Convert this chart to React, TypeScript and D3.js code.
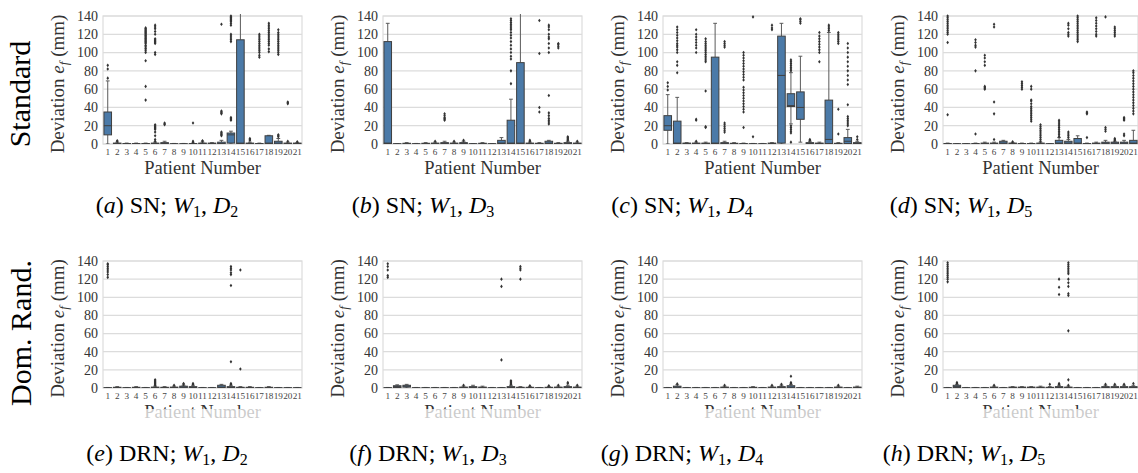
import React from "react";
import * as d3 from "d3";

type Box = [number, number, number, number, number]; // lo, q1, median, q3, hi

const patients = ["1", "2", "3", "4", "5", "6", "7", "8", "9", "10", "11", "12", "13", "14", "15", "16", "17", "18", "19", "20", "21"];
const yTicks = [0, 20, 40, 60, 80, 100, 120, 140];
const rowLabels = ["Standard", "Dom. Rand."];

// (a) SN; W1, D2
const boxesA: Box[] = [
  [0, 10, 20, 35, 69], [0, 0, 0.5, 1, 2], [0, 0, 0, 0.5, 1], [0, 0, 0, 0.5, 1], [0, 0, 0, 0.5, 1],
  [0, 0, 0.3, 1, 2], [0, 0, 0.5, 1.5, 3], [0, 0, 0, 0.3, 0.6], [0, 0, 0, 0.3, 0.6], [0, 0, 0.2, 0.5, 1],
  [0, 0, 0.3, 1, 2], [0, 0, 0.3, 1, 1.5], [0, 0, 0.5, 2, 4], [0, 1, 10, 12, 14], [0, 0.5, 1, 114, 150],
  [0, 0, 0.5, 1, 2], [0, 0, 0, 0.5, 1], [0, 0.5, 1, 9, 9.5], [0, 0, 1, 3, 6], [0, 0, 0.5, 1, 2], [0, 0, 0.5, 1, 1.5],
];
const fliersA: number[][] = [
  [72, 82, 86], [3, 3.5], [], [],
  [48, 63, 91, 100, 102, 104, 105, 107, 108, 110, 111, 112, 113, 114, 115, 116, 117, 118, 119, 120, 121, 122, 123, 124, 125, 126, 127],
  [3, 5, 9, 13, 16, 17, 18, 19, 20, 21, 98, 100, 110, 111, 112, 113, 114, 115, 120, 123, 126, 128, 130],
  [21, 22, 23], [], [], [2, 3, 23], [3, 3.5], [], [9, 10, 11, 12, 13, 33, 34, 35, 36, 131],
  [26, 27, 28, 29, 112, 114, 116, 118, 120, 130, 132, 134, 135, 136, 137, 138, 139, 140],
  [], [4, 5, 6], [95, 97, 100, 102, 104, 106, 108, 110, 112, 114, 116, 118, 120],
  [101, 104, 108, 110, 112, 114, 116, 118, 120, 122, 124, 126, 128, 130, 132],
  [8, 9, 10, 98, 100, 102, 104, 106, 108, 110, 112, 114, 116, 118, 120, 122, 125],
  [3, 44, 45, 46], [2.5],
];

// (b) SN; W1, D3
const boxesB: Box[] = [
  [0, 0.5, 1, 112, 132], [0, 0, 0, 0.3, 0.5], [0, 0, 0.3, 0.8, 1.5], [0, 0, 0, 0.3, 0.6], [0, 0, 0.3, 0.8, 1.5],
  [0, 0, 0.5, 1, 2], [0, 0, 0.5, 1.5, 3], [0, 0, 0.5, 1, 2], [0, 0, 0.5, 1.5, 3], [0, 0, 0, 0.3, 0.5],
  [0, 0, 0.3, 0.8, 1.5], [0, 0, 0, 0.3, 0.5], [0, 0.5, 1, 4, 7], [0, 0.5, 1, 26, 49], [0, 0.5, 1, 89, 150],
  [0, 0, 0.5, 1, 2], [0, 0, 0.3, 0.8, 1.5], [0, 0.5, 1, 3, 4], [0, 0, 0.3, 0.8, 1.5], [0, 0, 0.5, 1.5, 3], [0, 0, 0.5, 1, 2],
];
const fliersB: number[][] = [
  [], [], [], [], [], [3], [26, 27, 28, 29, 31, 33], [3], [4], [], [], [], [],
  [66, 80, 93, 96, 100, 104, 108, 112, 116, 119, 122, 125, 127, 129, 131, 133, 135, 137],
  [], [3, 4], [35, 40, 99, 135],
  [22, 24, 26, 28, 31, 34, 53, 100, 105, 110, 115, 117, 120, 125, 128, 130],
  [105, 107, 109, 110], [4, 5, 6, 7, 8], [3],
];

// (c) SN; W1, D4
const boxesC: Box[] = [
  [0, 15, 20, 31, 54], [0, 0.5, 1, 25, 51], [0, 0, 0.3, 1, 1.5], [0, 0, 0.5, 1, 2], [0, 0, 0.5, 1, 2],
  [0, 0.5, 1, 95, 132], [0, 0, 0.5, 1.5, 3], [0, 0, 0.3, 0.8, 1.5], [0, 0, 0, 0.5, 1], [0, 0, 0, 0.3, 0.6],
  [0, 0, 0, 0.3, 0.6], [0, 0, 0.3, 1, 1.5], [0, 1, 75, 118, 132], [22, 41, 42, 55, 78], [2, 27, 40, 57, 96],
  [0, 0, 0.5, 1.5, 3], [0, 0, 0.5, 1, 2], [0, 0.5, 5, 48, 122], [0, 0, 0.3, 0.8, 1.5], [0, 0.5, 3, 7, 16], [0, 0, 0.5, 1.5, 3],
];
const fliersC: number[][] = [
  [59, 63, 67], [78, 86, 90, 100, 103, 106, 108, 110, 113, 116, 119, 122, 125, 128], [],
  [3, 26, 27, 100, 105, 108, 111, 114, 117, 120, 125],
  [18, 19, 58, 90, 92, 94, 96, 98, 100, 102, 104, 106, 108, 110, 112, 115],
  [], [13, 15, 17, 19, 21, 23, 106, 108, 110, 112], [],
  [18, 35, 38, 41, 44, 47, 50, 53, 56, 59, 62, 70, 73, 76, 79, 82, 85, 88, 91, 94, 97, 100],
  [8, 139], [], [125, 127, 130], [],
  [2, 12, 14, 16, 18, 20, 80, 82, 84, 86, 88, 90, 92], [132, 134, 136, 137], [4, 5],
  [90, 100, 103, 106, 109, 112, 115, 118, 122], [124, 126, 128, 130],
  [11, 38, 110, 112, 114, 116, 118, 120, 122],
  [20, 22, 24, 26, 28, 30, 43, 65, 70, 75, 80, 85, 90, 95, 100, 105, 110], [5, 8],
];

// (d) SN; W1, D5
const boxesD: Box[] = [
  [0, 0, 0, 0.5, 1], [0, 0, 0, 0.3, 0.5], [0, 0, 0, 0.3, 0.5], [0, 0, 0, 0.5, 1], [0, 0, 0.3, 1, 2],
  [0, 0, 0.3, 1, 2], [0, 0.3, 1, 3, 4], [0, 0, 0.3, 1, 1.5], [0, 0, 0, 0.5, 1], [0, 0, 0, 0.5, 1],
  [0, 0, 0.3, 1, 2], [0, 0, 0, 0.3, 0.5], [0, 0.5, 1, 4, 7], [0, 0.3, 1, 3, 5], [0, 0.5, 1, 6, 9],
  [0, 0, 0, 0.5, 1], [0, 0, 0.3, 1, 2], [0, 0.3, 1, 2, 4], [0, 0.3, 1, 2, 3], [0, 0.3, 1, 2, 4], [0, 0.5, 1, 4, 15],
];
const fliersD: number[][] = [
  [32, 111, 120, 122, 124, 126, 128, 130, 132, 134, 136, 138, 140], [], [],
  [11, 80, 106, 108, 111, 114], [60, 61, 62, 63, 86, 90, 94, 97], [5, 33, 46, 128, 131], [], [2.5],
  [60, 62, 64, 66, 68], [25, 27, 29, 31, 33, 35, 37, 39, 41, 44, 47, 48, 60, 63],
  [3, 5, 7, 9, 11, 13, 15, 17, 19, 21], [], [8, 10, 12, 14, 16, 18, 20, 22, 24, 26],
  [7, 9, 11, 13, 118, 120, 122, 126, 130, 132],
  [112, 114, 116, 118, 120, 122, 124, 126, 128, 130, 132, 134, 136, 138, 140],
  [7, 33, 34, 35], [118, 120, 123, 126, 129, 132, 135, 138], [14, 16, 18, 139],
  [4, 5, 6, 118, 120, 122, 124, 126, 128], [9, 11, 26, 27, 28, 29],
  [33, 36, 39, 42, 45, 48, 51, 54, 57, 60, 63, 66, 69, 72, 75, 78, 80],
];

// (e) DRN; W1, D2
const boxesE: Box[] = [
  [0, 0, 0, 0.3, 0.6], [0, 0, 0.3, 0.8, 1.5], [0, 0, 0, 0.3, 0.6], [0, 0, 0.3, 0.8, 1.5], [0, 0, 0, 0.3, 0.6],
  [0, 0, 0.3, 1, 2], [0, 0, 0.3, 0.8, 1.5], [0, 0, 0.3, 1, 2], [0, 0.3, 1, 2, 3], [0, 0, 0.5, 1.5, 3],
  [0, 0, 0, 0.3, 0.6], [0, 0, 0, 0.3, 0.6], [0, 0.5, 1, 3, 4], [0, 0, 0.5, 1.5, 3], [0, 0, 0.3, 0.8, 1.5],
  [0, 0, 0.3, 0.8, 1.5], [0, 0, 0, 0.3, 0.6], [0, 0, 0.3, 0.8, 1.5], [0, 0, 0, 0.3, 0.6], [0, 0, 0, 0.3, 0.6], [0, 0, 0, 0.3, 0.6],
];
const fliersE: number[][] = [
  [122, 125, 128, 130, 132, 134, 136, 137], [], [], [], [], [3, 4, 5, 6, 7, 8, 9], [], [3], [4, 5], [4, 5],
  [], [], [], [4, 5, 29, 113, 125, 127, 130, 132, 134], [21, 130], [], [], [], [], [], [],
];

// (f) DRN; W1, D3
const boxesF: Box[] = [
  [0, 0, 0, 0.3, 0.6], [0, 0.5, 1.5, 2.5, 3.5], [0, 1, 2, 3, 4], [0, 0, 0, 0.3, 0.6], [0, 0, 0, 0.3, 0.6],
  [0, 0, 0, 0.3, 0.6], [0, 0, 0, 0.3, 0.6], [0, 0, 0, 0.3, 0.6], [0, 0, 0.5, 1, 2], [0, 0, 0.5, 1.5, 3],
  [0, 0, 0.5, 1, 2], [0, 0, 0, 0.3, 0.6], [0, 0, 0, 0.3, 0.6], [0, 0, 0.5, 1.5, 3], [0, 0, 0.3, 0.8, 1.5],
  [0, 0, 0.3, 0.8, 1.5], [0, 0, 0, 0.3, 0.6], [0, 0, 0.3, 0.8, 1.5], [0, 0, 0.5, 1, 2], [0, 0, 0.5, 1.5, 3], [0, 0, 0.5, 1, 2],
];
const fliersF: number[][] = [
  [122, 124, 130, 134, 137], [], [], [], [], [], [], [], [3], [], [], [], [31, 112, 120],
  [4, 5, 6, 7, 8], [120, 130, 132, 134], [2.5], [], [2.5], [3], [5, 6], [3],
];

// (g) DRN; W1, D4
const boxesG: Box[] = [
  [0, 0, 0, 0.3, 0.6], [0, 0.3, 1, 2, 3.5], [0, 0, 0, 0.3, 0.6], [0, 0, 0, 0.3, 0.6], [0, 0, 0, 0.3, 0.6],
  [0, 0, 0, 0.3, 0.6], [0, 0, 0.5, 1, 2], [0, 0, 0, 0.3, 0.6], [0, 0, 0, 0.3, 0.6], [0, 0, 0.3, 0.8, 1.5],
  [0, 0, 0, 0.3, 0.6], [0, 0, 0.5, 1, 2], [0, 0, 0.5, 1.5, 3], [0, 0.3, 1, 2.5, 4], [0, 0, 0, 0.3, 0.6],
  [0, 0, 0, 0.3, 0.6], [0, 0, 0, 0.3, 0.6], [0, 0, 0, 0.3, 0.6], [0, 0, 0.5, 1, 2], [0, 0, 0, 0.3, 0.6], [0, 0, 0.5, 1, 2],
];
const fliersG: number[][] = [
  [], [4.5], [], [], [], [], [3], [], [], [], [], [3], [4], [5, 6, 13], [], [], [], [], [3], [], [],
];

// (h) DRN; W1, D5
const boxesH: Box[] = [
  [0, 0, 0, 0.3, 0.6], [0, 0.5, 1.5, 3, 4], [0, 0, 0, 0.3, 0.6], [0, 0, 0, 0.3, 0.6], [0, 0, 0, 0.3, 0.6],
  [0, 0, 0.5, 1, 2], [0, 0, 0, 0.3, 0.6], [0, 0, 0.3, 1, 1.5], [0, 0, 0.3, 1, 1.5], [0, 0, 0.5, 1, 1.5],
  [0, 0, 0.5, 1, 2], [0, 0, 0.3, 0.8, 1.5], [0, 0, 0.5, 1.5, 3], [0, 0, 0.5, 1, 2], [0, 0, 0, 0.3, 0.6],
  [0, 0, 0, 0.3, 0.6], [0, 0, 0, 0.3, 0.6], [0, 0, 0.5, 1.5, 3], [0, 0, 0.5, 1.5, 3], [0, 0, 0.5, 1.5, 3], [0, 0, 0.5, 1.5, 3],
];
const fliersH: number[][] = [
  [117, 120, 122, 124, 126, 128, 130, 132, 134, 136, 138], [5, 6], [], [], [], [3], [], [], [], [], [],
  [4], [4, 5, 103, 111, 120],
  [3, 9, 63, 102, 104, 112, 116, 120, 126, 128, 130, 132, 134, 136, 138],
  [], [], [], [4], [4], [4], [5],
];

const BOX_FILL = "#4b7aa8";
const EDGE = "#3f3f3f";
const WHISKER = "#5a5a5a";
const GRID = "#dcdcdc";
const serif = { fontFamily: '"Liberation Serif", "DejaVu Serif", serif' };

type PanelProps = {
  id: string;
  left: number;
  width: number;
  top: number;
  bottom: number;
  boxes: Box[];
  fliers: number[][];
};

function Panel(p: PanelProps) {
  const y = d3.scaleLinear().domain([0, 140]).range([p.bottom, p.top]);
  const x = d3.scaleBand<string>().domain(patients).range([p.left, p.left + p.width]).paddingInner(0);
  const bw = x.bandwidth() * 0.8;
  const capW = bw * 0.5;
  const diamond = (cx: number, cy: number) =>
    `M${cx},${cy - 1.8}L${cx + 1.3},${cy}L${cx},${cy + 1.8}L${cx - 1.3},${cy}Z`;

  return (
    <g>
      <defs>
        <clipPath id={`clip-${p.id}`}>
          <rect x={p.left} y={p.top - 2} width={p.width} height={p.bottom - p.top + 2} />
        </clipPath>
      </defs>
      {yTicks.map((t) => (
        <g key={t}>
          <line x1={p.left} x2={p.left + p.width} y1={y(t)} y2={y(t)} stroke={GRID} strokeWidth={1.2} />
          <text x={p.left - 5} y={y(t)} dy="0.35em" textAnchor="end" fontSize={14} fill="#333" style={serif}>
            {t}
          </text>
        </g>
      ))}
      <rect x={p.left} y={p.top} width={p.width} height={p.bottom - p.top} fill="none" stroke={GRID} strokeWidth={1.2} />
      <g clipPath={`url(#clip-${p.id})`}>
        {p.boxes.map((b, i) => {
          const cx = x(patients[i])! + x.bandwidth() / 2;
          const [lo, q1, med, q3, hi] = b;
          return (
            <g key={i}>
              <line x1={cx} x2={cx} y1={y(hi)} y2={y(q3)} stroke={WHISKER} strokeWidth={1} />
              <line x1={cx} x2={cx} y1={y(q1)} y2={y(lo)} stroke={WHISKER} strokeWidth={1} />
              <line x1={cx - capW / 2} x2={cx + capW / 2} y1={y(hi)} y2={y(hi)} stroke={WHISKER} strokeWidth={1} />
              <line x1={cx - capW / 2} x2={cx + capW / 2} y1={y(lo)} y2={y(lo)} stroke={WHISKER} strokeWidth={1} />
              <rect
                x={cx - bw / 2}
                y={y(q3)}
                width={bw}
                height={Math.max(0.8, y(q1) - y(q3))}
                fill={BOX_FILL}
                stroke={EDGE}
                strokeWidth={1}
              />
              <line x1={cx - bw / 2} x2={cx + bw / 2} y1={y(med)} y2={y(med)} stroke={EDGE} strokeWidth={1} />
              {p.fliers[i].map((v, j) => (
                <path key={j} d={diamond(cx, y(v))} fill="#333" />
              ))}
            </g>
          );
        })}
      </g>
      {patients.map((pt) => (
        <text
          key={pt}
          x={x(pt)! + x.bandwidth() / 2}
          y={p.bottom + 11}
          textAnchor="middle"
          fontSize={9.2}
          fill="#444"
          style={serif}
        >
          {pt}
        </text>
      ))}
      <text
        x={p.left + p.width / 2}
        y={p.bottom + 30}
        textAnchor="middle"
        fontSize={18.5}
        fill="#333"
        style={serif}
      >
        Patient Number
      </text>
      <text
        transform={`translate(${p.left - 39},${(p.top + p.bottom) / 2 + 4}) rotate(-90)`}
        textAnchor="middle"
        fontSize={19}
        fill="#333"
        style={serif}
      >
        Deviation <tspan fontStyle="italic">e</tspan>
        <tspan fontStyle="italic" fontSize={13} dy={4}>f</tspan>
        <tspan dy={-4}> (mm)</tspan>
      </text>
    </g>
  );
}

function Caption(p: { x: number; y: number; tag: string; method: string; dIdx: string }) {
  return (
    <text x={p.x} y={p.y} textAnchor="middle" fontSize={24} fill="#000" style={serif}>
      (<tspan fontStyle="italic">{p.tag}</tspan>) {p.method}; <tspan fontStyle="italic">W</tspan>
      <tspan fontSize={16} dy={4}>1</tspan>
      <tspan dy={-4}>, </tspan>
      <tspan fontStyle="italic">D</tspan>
      <tspan fontSize={16} dy={4}>{p.dIdx}</tspan>
    </text>
  );
}

const lefts = [103, 383, 663, 943];
const widths = [199, 199, 199, 195];
const capXTop = [167, 423, 682, 961];
const capXBottom = [167, 428, 682, 964];

export default function App() {
  const top = [boxesA, boxesB, boxesC, boxesD];
  const topF = [fliersA, fliersB, fliersC, fliersD];
  const bot = [boxesE, boxesF, boxesG, boxesH];
  const botF = [fliersE, fliersF, fliersG, fliersH];
  const tagsTop = ["a", "b", "c", "d"];
  const tagsBot = ["e", "f", "g", "h"];
  const dIdx = ["2", "3", "4", "5"];

  return (
    <svg
      width={1138}
      height={473}
      style={{ position: "fixed", left: 0, top: 0, background: "#fff" }}
    >
      <rect width={1138} height={473} fill="#fff" />
      {top.map((b, i) => (
        <Panel key={`t${i}`} id={`t${i}`} left={lefts[i]} width={widths[i]} top={16} bottom={144} boxes={b} fliers={topF[i]} />
      ))}
      {bot.map((b, i) => (
        <Panel key={`b${i}`} id={`b${i}`} left={lefts[i]} width={widths[i]} top={261} bottom={388} boxes={b} fliers={botF[i]} />
      ))}
      {/* the caption block of the bottom row sits over the lower half of its x titles */}
      <rect x={40} y={409} width={1098} height={64} fill="#fff" opacity={0.75} />
      {tagsTop.map((t, i) => (
        <Caption key={t} x={capXTop[i]} y={213} tag={t} method="SN" dIdx={dIdx[i]} />
      ))}
      {tagsBot.map((t, i) => (
        <Caption key={t} x={capXBottom[i]} y={461} tag={t} method="DRN" dIdx={dIdx[i]} />
      ))}
      <text transform="translate(30,94) rotate(-90)" textAnchor="middle" fontSize={30} fill="#000" style={serif}>
        {rowLabels[0]}
      </text>
      <text transform="translate(31,333) rotate(-90)" textAnchor="middle" fontSize={30} fill="#000" style={serif}>
        {rowLabels[1]}
      </text>
    </svg>
  );
}
